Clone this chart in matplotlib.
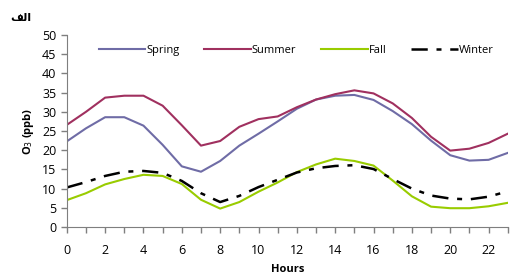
import matplotlib.pyplot as plt

hours = list(range(24))
spring = [22.3, 25.7, 28.6, 28.6, 26.4, 21.4, 15.8, 14.4, 17.2, 21.2, 24.3, 27.5,
          30.8, 33.2, 34.2, 34.4, 33.1, 30.2, 26.8, 22.5, 18.7, 17.3, 17.5, 19.3]
summer = [26.6, 30.0, 33.7, 34.2, 34.2, 31.6, 26.5, 21.2, 22.4, 26.1, 28.1, 28.8,
          31.2, 33.2, 34.6, 35.6, 34.8, 32.2, 28.4, 23.5, 19.9, 20.4, 21.9, 24.3]
fall = [7.0, 8.8, 11.1, 12.5, 13.6, 13.3, 11.2, 7.1, 4.8, 6.5, 9.2, 11.6,
        14.3, 16.3, 17.8, 17.2, 16.0, 12.1, 8.0, 5.3, 4.9, 4.9, 5.4, 6.3]
winter = [10.3, 11.7, 13.3, 14.4, 14.6, 14.1, 12.0, 8.8, 6.5, 8.1, 10.4, 12.3,
          14.2, 15.3, 15.9, 16.1, 15.1, 12.5, 10.0, 8.2, 7.4, 7.2, 7.9, 9.3]
xtick_labels = [str(h) for h in range(0, 24, 2)]

plt.rcParams['font.family'] = ['Open Sans', 'DejaVu Sans']

fig = plt.figure(figsize=(5.3, 2.76), dpi=100)
ax = fig.add_axes([0.126, 0.1775, 0.832, 0.6955])

ax.plot(hours, spring, color="#6f6ca6", lw=1.5, label="Spring")
ax.plot(hours, summer, color="#a0305f", lw=1.5, label="Summer")
ax.plot(hours, fall, color="#99cc00", lw=1.5, label="Fall")
ax.plot(hours, winter, color="black", lw=1.8, linestyle=(0, (6.5, 3.5, 2, 3.5)), label="Winter")

ax.set_xlim(0, 23)
ax.set_ylim(0, 50)
ax.set_yticks(range(0, 51, 5))
ax.set_xticks(range(0, 24, 2))
ax.set_xticklabels(xtick_labels)
ax.set_xticks(range(24), minor=True)
ax.tick_params(axis="both", which="both", direction="out", length=4, width=1, color="#7f7f7f", labelsize=9)
ax.tick_params(axis="x", pad=8)
for s in ["top", "right"]:
    ax.spines[s].set_visible(False)
for s in ["left", "bottom"]:
    ax.spines[s].set_color("#7f7f7f")

ax.set_ylabel("O$_3$ (ppb)", fontsize=8, fontweight="bold", labelpad=4)
ax.set_xlabel("Hours", fontsize=8, fontweight="bold", labelpad=5)

ax.legend(loc="upper center", bbox_to_anchor=(0.52, 1.0), ncol=4, frameon=False,
          fontsize=8, handlelength=4.2, handletextpad=0.1, columnspacing=2.2)

# Arabic label in visual order (presentation forms) since matplotlib does no shaping
fig.text(0.02, 0.925, "\ufed2\ufedf\u0627", fontsize=8, fontweight="bold", family="DejaVu Sans")

fig.savefig("out.png", dpi=100)
